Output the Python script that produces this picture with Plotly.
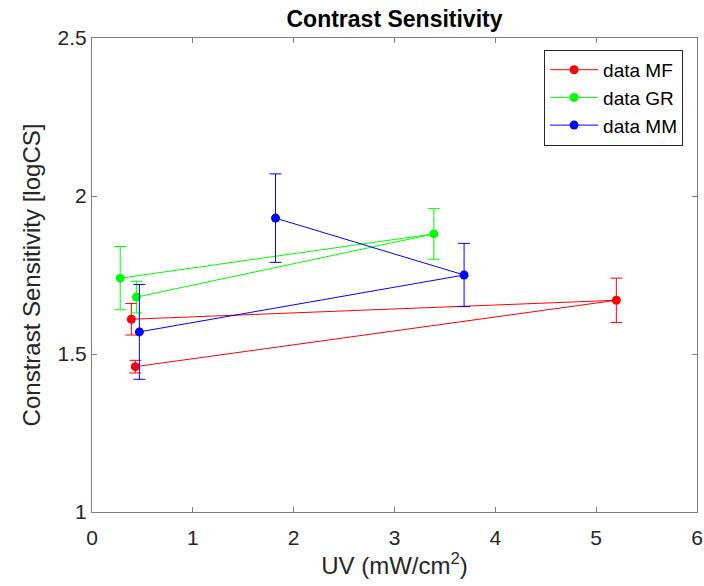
import plotly.graph_objects as go

# data
mf_x = [0.39, 5.20, 0.43]
mf_y = [1.61, 1.67, 1.46]
mf_err = [0.05, 0.07, 0.02]

gr_x = [0.28, 3.39, 0.44]
gr_y = [1.74, 1.88, 1.68]
gr_err = [0.10, 0.08, 0.05]

mm_x = [0.47, 3.69, 1.82]
mm_y = [1.57, 1.75, 1.93]
mm_err = [0.15, 0.10, 0.14]

series = [
    ("data MF", mf_x, mf_y, mf_err, "#ff0000"),
    ("data GR", gr_x, gr_y, gr_err, "#00ff00"),
    ("data MM", mm_x, mm_y, mm_err, "#0000ff"),
]

x_ticks = [0, 1, 2, 3, 4, 5, 6]
y_ticks = [1, 1.5, 2, 2.5]

fig = go.Figure()
for name, xs, ys, es, col in series:
    fig.add_trace(go.Scatter(
        x=xs, y=ys, name=name, mode="lines+markers",
        line=dict(color=col, width=1),
        marker=dict(color=col, size=9),
        error_y=dict(type="data", array=es, visible=True, color=col,
                     thickness=1, width=6),
    ))

font = "Liberation Sans, Arial, sans-serif"
axcol = "#7f7f7f"
fig.update_layout(
    width=704, height=586,
    margin=dict(l=92, r=7, t=38, b=74),
    plot_bgcolor="white", paper_bgcolor="white",
    font=dict(family=font, color="#262626"),
    title=dict(text="<b>Contrast Sensitivity</b>", x=(92 + 697) / 2 / 704,
               xanchor="center", y=1 - 19 / 586, yanchor="middle",
               font=dict(size=23, color="black", family=font)),
    showlegend=True,
    legend=dict(x=0.977, xanchor="right", y=0.975, yanchor="top",
                bgcolor="white", bordercolor="#262626", borderwidth=1,
                font=dict(size=19, color="black"), tracegroupgap=0,
                itemwidth=48),
)
fig.update_xaxes(
    range=[0, 6], tickvals=x_ticks, ticktext=[str(v) for v in x_ticks],
    ticks="inside", ticklen=5, tickcolor=axcol, mirror="ticks",
    showline=True, linecolor=axcol, linewidth=1, showgrid=False,
    zeroline=False, tickfont=dict(size=21, color="#262626"),
    automargin=False, ticklabelstandoff=7,
    title=dict(text="UV (mW/cm<sup>2</sup>)", font=dict(size=24, color="#262626"),
               standoff=4),
)
fig.update_yaxes(
    range=[1, 2.5], tickvals=y_ticks, ticktext=["1", "1.5", "2", "2.5"],
    ticks="inside", ticklen=5, tickcolor=axcol, mirror="ticks",
    showline=True, linecolor=axcol, linewidth=1, showgrid=False,
    zeroline=False, tickfont=dict(size=21, color="#262626"),
    automargin=False,
    title=dict(text="Constrast Sensitivity [logCS]", font=dict(size=24, color="#262626"),
               standoff=10),
)

fig.write_html("out.html")
